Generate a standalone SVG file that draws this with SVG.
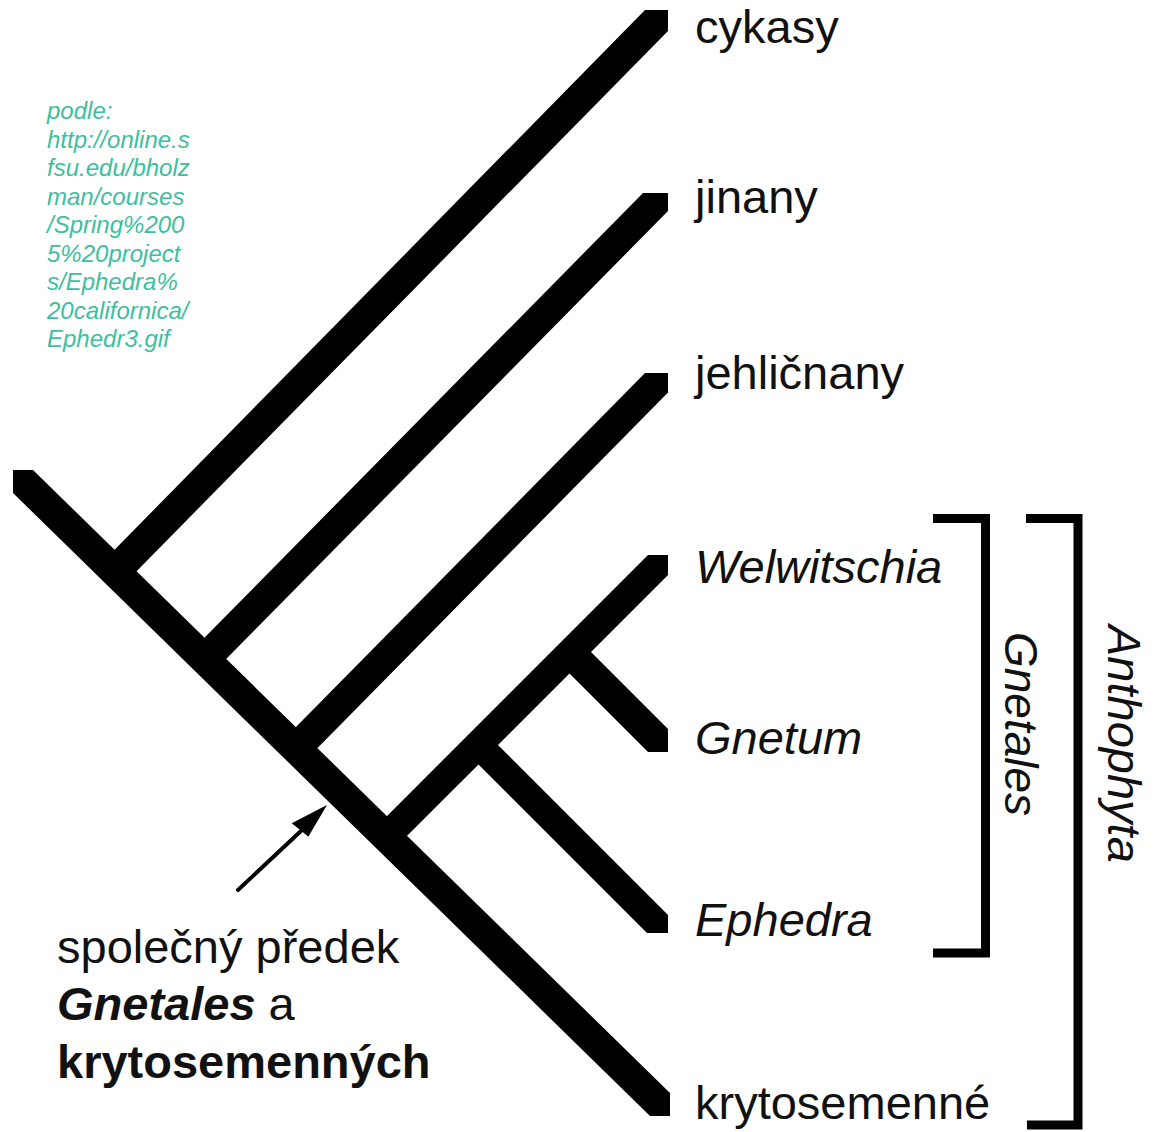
<svg xmlns="http://www.w3.org/2000/svg" width="1154" height="1132" viewBox="0 0 1154 1132">
<style>
.lbl{font-family:"Liberation Sans",Arial,sans-serif;font-size:47px;fill:#111}
.it{font-style:italic}
.b{font-weight:bold}
.src{font-family:"Liberation Sans",Arial,sans-serif;font-size:24px;font-style:italic;fill:#3dbf9f}
.br{fill:#000}
.bk{fill:none;stroke:#000;stroke-width:9;stroke-linecap:butt;stroke-linejoin:miter}
</style>
<rect width="1154" height="1132" fill="#fff"/>
<g id="source-note">
<text class="src" x="47" y="119">podle:</text>
<text class="src" x="47" y="147.5">http://online.s</text>
<text class="src" x="47" y="176">fsu.edu/bholz</text>
<text class="src" x="47" y="204.5">man/courses</text>
<text class="src" x="47" y="233">/Spring%200</text>
<text class="src" x="47" y="261.5">5%20project</text>
<text class="src" x="47" y="290">s/Ephedra%</text>
<text class="src" x="47" y="318.5">20californica/</text>
<text class="src" x="47" y="347">Ephedr3.gif</text>
</g>
<g id="connectors">
<polygon class="br" points="13,470 33,470 670,1093 670,1116 650,1116 13,493"/>
<polygon class="br" points="645,10 668,10 668,31 126,582 104,560.5"/>
<polygon class="br" points="643,193 668,193 668,211 215.5,669.8 193.8,648.5"/>
<polygon class="br" points="645,373 668,373 668,392.6 306.7,759 285.1,738"/>
<polygon class="br" points="648,555 668,555 668,575 396.4,846.6 376.1,826.9"/>
<polygon class="br" points="581,642 668,729 668,752 648,752 559.5,663.5"/>
<polygon class="br" points="488,735 668,915 668,933 647,933 468.5,754.5"/>
<g id="arrow">
<line x1="238" y1="890" x2="302" y2="830" stroke="#000" stroke-width="4" stroke-linecap="round"/>
<polygon points="327,805 308.3,836.7 301.5,831 291.7,823.3" fill="#000"/>
</g>
</g>
<g id="node-cykasy"><text class="lbl" x="695" y="43">cykasy</text></g>
<g id="node-jinany"><text class="lbl" x="695" y="213">jinany</text></g>
<g id="node-jehlicnany"><text class="lbl" x="695" y="389">jehličnany</text></g>
<g id="node-welwitschia"><text class="lbl it" x="695" y="583">Welwitschia</text></g>
<g id="node-gnetum"><text class="lbl it" x="695" y="754">Gnetum</text></g>
<g id="node-ephedra"><text class="lbl it" x="695" y="936">Ephedra</text></g>
<g id="node-krytosemenne"><text class="lbl" x="695" y="1119">krytosemenné</text></g>
<g id="ancestor-label">
<text class="lbl" x="57" y="963">společný předek</text>
<text class="lbl" x="57" y="1020"><tspan class="b it">Gnetales</tspan> a</text>
<text class="lbl b" x="57" y="1078">krytosemenných</text>
</g>
<g id="group-gnetales">
<path class="bk" d="M933,518.5 H985.5 V953 H933"/>
<text class="lbl it" transform="translate(1005,632) rotate(90)" style="font-size:46px">Gnetales</text>
</g>
<g id="group-anthophyta">
<path class="bk" d="M1026,518.5 H1078 V1125 H1027"/>
<text class="lbl it" transform="translate(1108,625) rotate(90)">Anthophyta</text>
</g>
</svg>
